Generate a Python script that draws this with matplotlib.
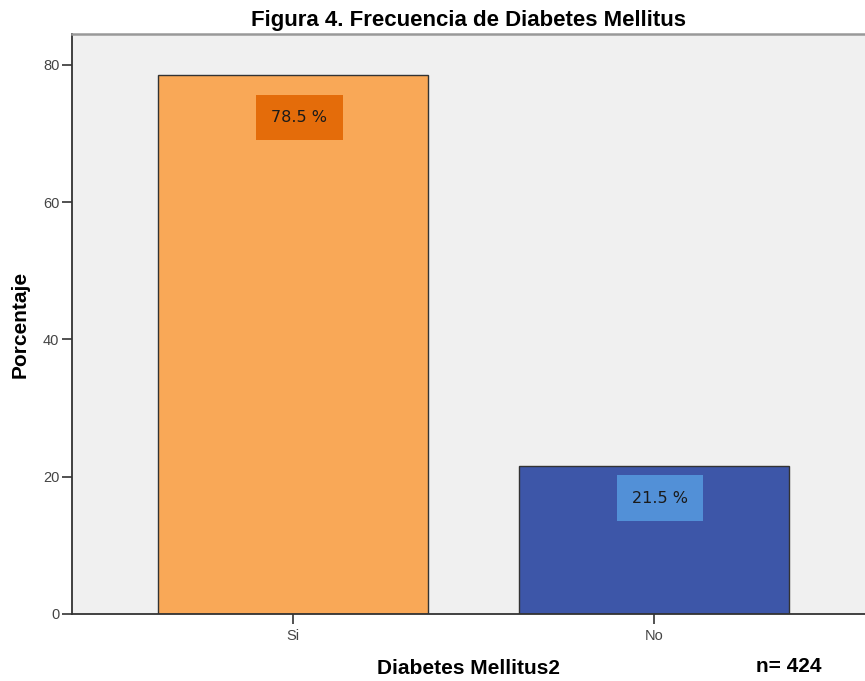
import matplotlib
matplotlib.use("Agg")
import matplotlib.pyplot as plt

categories = ["Si", "No"]
percentages = [78.5, 21.5]
bar_colors = ["#F9A857", "#3D56A8"]
label_colors = ["#E46C0A", "#5290D7"]
n_total = 424

plt.rcParams["font.family"] = ["Liberation Sans", "DejaVu Sans"]

fig = plt.figure(figsize=(8.65, 6.81), dpi=100)
ax = fig.add_axes([0.0832, 0.0984, 0.9168, 0.8516])
ax.set_facecolor("#F0F0F0")

x = list(range(len(categories)))
ax.bar(x, percentages, width=0.75, color=bar_colors, edgecolor="#333333",
       linewidth=1.0, zorder=2)

# value labels sit in a shaded box just below the top of each bar
label_drop = [6.2, 4.6]
for xi, val, lc, drop in zip(x, percentages, label_colors, label_drop):
    ax.text(xi + 0.017, val - drop, f"{val:.1f} %", ha="center", va="center",
            fontsize=11.5, family="DejaVu Sans", color="#1a1a1a", zorder=3,
            bbox=dict(boxstyle="square,pad=0.95", facecolor=lc,
                      edgecolor="none"))

ax.set_xlim(-0.614, 1.586)
ax.set_ylim(0, 84.5)
ax.set_yticks([0, 20, 40, 60, 80])
ax.set_xticks(x)
ax.set_xticklabels(categories)

ax.tick_params(axis="y", direction="out", length=7, width=1.2, colors="#333333",
               labelsize=10.5, labelcolor="#444444", pad=2)
ax.tick_params(axis="x", direction="out", length=7, width=1.2, colors="#333333",
               labelsize=10.5, labelcolor="#444444", pad=4)

for side in ("left", "bottom"):
    ax.spines[side].set_color("#333333")
    ax.spines[side].set_linewidth(1.3)
ax.spines["top"].set_color("#999999")
ax.spines["top"].set_linewidth(1.8)
ax.spines["right"].set_visible(False)

ax.set_ylabel("Porcentaje", fontsize=15, fontweight="bold", labelpad=10)
ax.set_xlabel("Diabetes Mellitus2", fontsize=15, fontweight="bold", labelpad=11)
ax.set_title("Figura 4. Frecuencia de Diabetes Mellitus", fontsize=16,
             fontweight="bold", pad=6)

fig.text(0.874, 0.007, f"n= {n_total}", fontsize=15, fontweight="bold",
         ha="left", va="bottom")

fig.savefig("out.png", dpi=100)
